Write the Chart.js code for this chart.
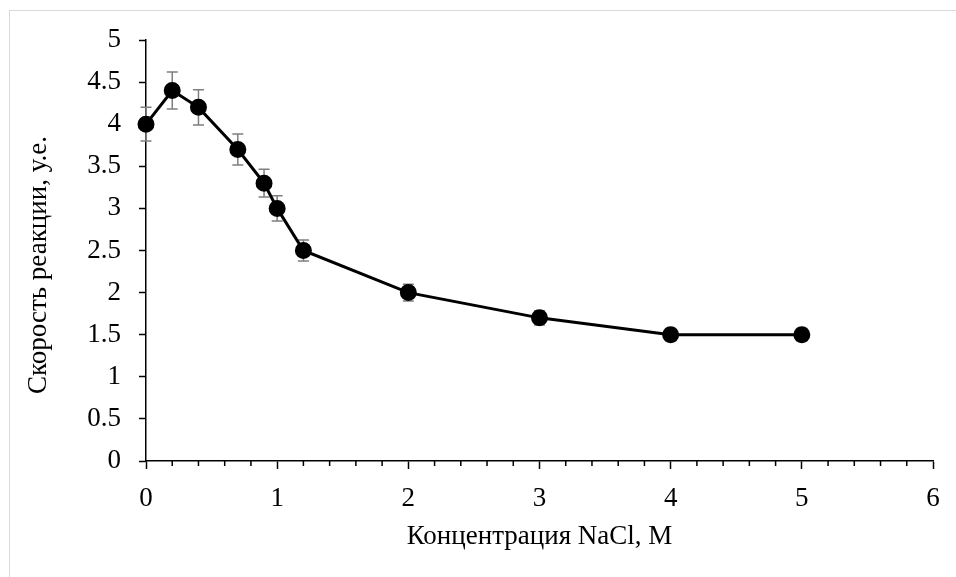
<!DOCTYPE html>
<html lang="ru">
<head>
<meta charset="utf-8">
<title>Скорость реакции</title>
<script src="https://cdn.jsdelivr.net/npm/chart.js@4.4.1/dist/chart.umd.min.js"></script>
<style>
    body { margin: 0; background: #fff; }
    canvas { display: block; }
</style>
</head>
<body>
<canvas id="rateChart" width="956" height="577"></canvas>
<script>
// Концентрация NaCl, М
const concentrations = [0, 0.2, 0.4, 0.7, 0.9, 1, 1.2, 2, 3, 4, 5];
// Скорость реакции, у.е.
const rates = [4, 4.4, 4.2, 3.7, 3.3, 3.0, 2.5, 2.0, 1.7, 1.5, 1.5];
// погрешность (±)
const rateErrors = [0.2, 0.22, 0.21, 0.185, 0.165, 0.15, 0.125, 0.1, 0.085, 0.075, 0.075];

const xMin = 0, xMax = 6, xMinorStep = 0.2;
const yMin = 0, yMax = 5, yStep = 0.5;

const xTitle = 'Концентрация NaCl, М';
const yTitle = 'Скорость реакции, у.е.';

const serif = '"Liberation Serif", "Times New Roman", serif';
const fontSize = 27;

// рамка вокруг диаграммы
const framePlugin = {
    id: 'frame',
    beforeDraw(chart) {
        const ctx = chart.ctx;
        ctx.save();
        ctx.strokeStyle = '#d9d9d9';
        ctx.lineWidth = 1;
        ctx.strokeRect(9.5, 10.5, chart.width + 20, chart.height + 20);
        ctx.restore();
    }
};

// планки погрешностей под маркерами
const errorBarsPlugin = {
    id: 'errorBars',
    beforeDatasetsDraw(chart) {
        const ctx = chart.ctx;
        const xs = chart.scales.x, ys = chart.scales.y;
        ctx.save();
        ctx.strokeStyle = '#7f7f7f';
        ctx.lineWidth = 1.5;
        concentrations.forEach((c, i) => {
            const px = xs.getPixelForValue(c);
            const top = ys.getPixelForValue(rates[i] + rateErrors[i]);
            const bottom = ys.getPixelForValue(rates[i] - rateErrors[i]);
            ctx.beginPath();
            ctx.moveTo(px, top);
            ctx.lineTo(px, bottom);
            ctx.moveTo(px - 5.5, top);
            ctx.lineTo(px + 5.5, top);
            ctx.moveTo(px - 5.5, bottom);
            ctx.lineTo(px + 5.5, bottom);
            ctx.stroke();
        });
        ctx.restore();
    }
};

// малые деления оси X и подпись оси Y
const axisExtrasPlugin = {
    id: 'axisExtras',
    afterDraw(chart) {
        const ctx = chart.ctx;
        const xs = chart.scales.x;
        const y0 = chart.chartArea.bottom;
        ctx.save();
        ctx.strokeStyle = '#000';
        ctx.lineWidth = 1.5;
        ctx.beginPath();
        for (let v = xMin; v <= xMax + 1e-9; v += xMinorStep) {
            if (Math.abs(v - Math.round(v)) < 1e-6) continue;
            const px = xs.getPixelForValue(v);
            ctx.moveTo(px, y0);
            ctx.lineTo(px, y0 + 5);
        }
        ctx.stroke();

        ctx.translate(39, 265);
        ctx.rotate(-Math.PI / 2);
        ctx.fillStyle = '#000';
        ctx.font = fontSize + 'px ' + serif;
        ctx.textAlign = 'center';
        ctx.textBaseline = 'middle';
        ctx.fillText(yTitle, 0, 0);
        ctx.restore();
    }
};

new Chart(document.getElementById('rateChart'), {
    type: 'scatter',
    data: {
        datasets: [{
            data: concentrations.map((c, i) => ({ x: c, y: rates[i] })),
            showLine: true,
            borderColor: '#000',
            borderWidth: 3,
            backgroundColor: '#000',
            pointRadius: 7,
            pointHoverRadius: 7,
            tension: 0,
            clip: false
        }]
    },
    options: {
        responsive: false,
        animation: false,
        events: [],
        layout: { padding: { top: 40, right: 23, left: 0, bottom: 0 } },
        plugins: {
            legend: { display: false },
            tooltip: { enabled: false }
        },
        scales: {
            x: {
                type: 'linear',
                min: xMin,
                max: xMax,
                afterFit(scale) { scale.height = 116; },
                border: { color: '#000', width: 1.5 },
                grid: { drawOnChartArea: false, tickLength: 8, tickColor: '#000', tickWidth: 1.5 },
                ticks: {
                    stepSize: 1,
                    color: '#000',
                    padding: 14,
                    maxRotation: 0,
                    font: { family: serif, size: fontSize }
                },
                title: {
                    display: true,
                    text: xTitle,
                    color: '#000',
                    padding: { top: 0, bottom: 24 },
                    font: { family: serif, size: fontSize }
                }
            },
            y: {
                min: yMin,
                max: yMax,
                afterFit(scale) { scale.width = 146; },
                border: { color: '#000', width: 1.5 },
                grid: { drawOnChartArea: false, tickLength: 7, tickColor: '#000', tickWidth: 1.5 },
                ticks: {
                    stepSize: yStep,
                    color: '#000',
                    padding: 18,
                    font: { family: serif, size: fontSize },
                    callback: v => String(v)
                }
            }
        }
    },
    plugins: [framePlugin, errorBarsPlugin, axisExtrasPlugin]
});
</script>
</body>
</html>
